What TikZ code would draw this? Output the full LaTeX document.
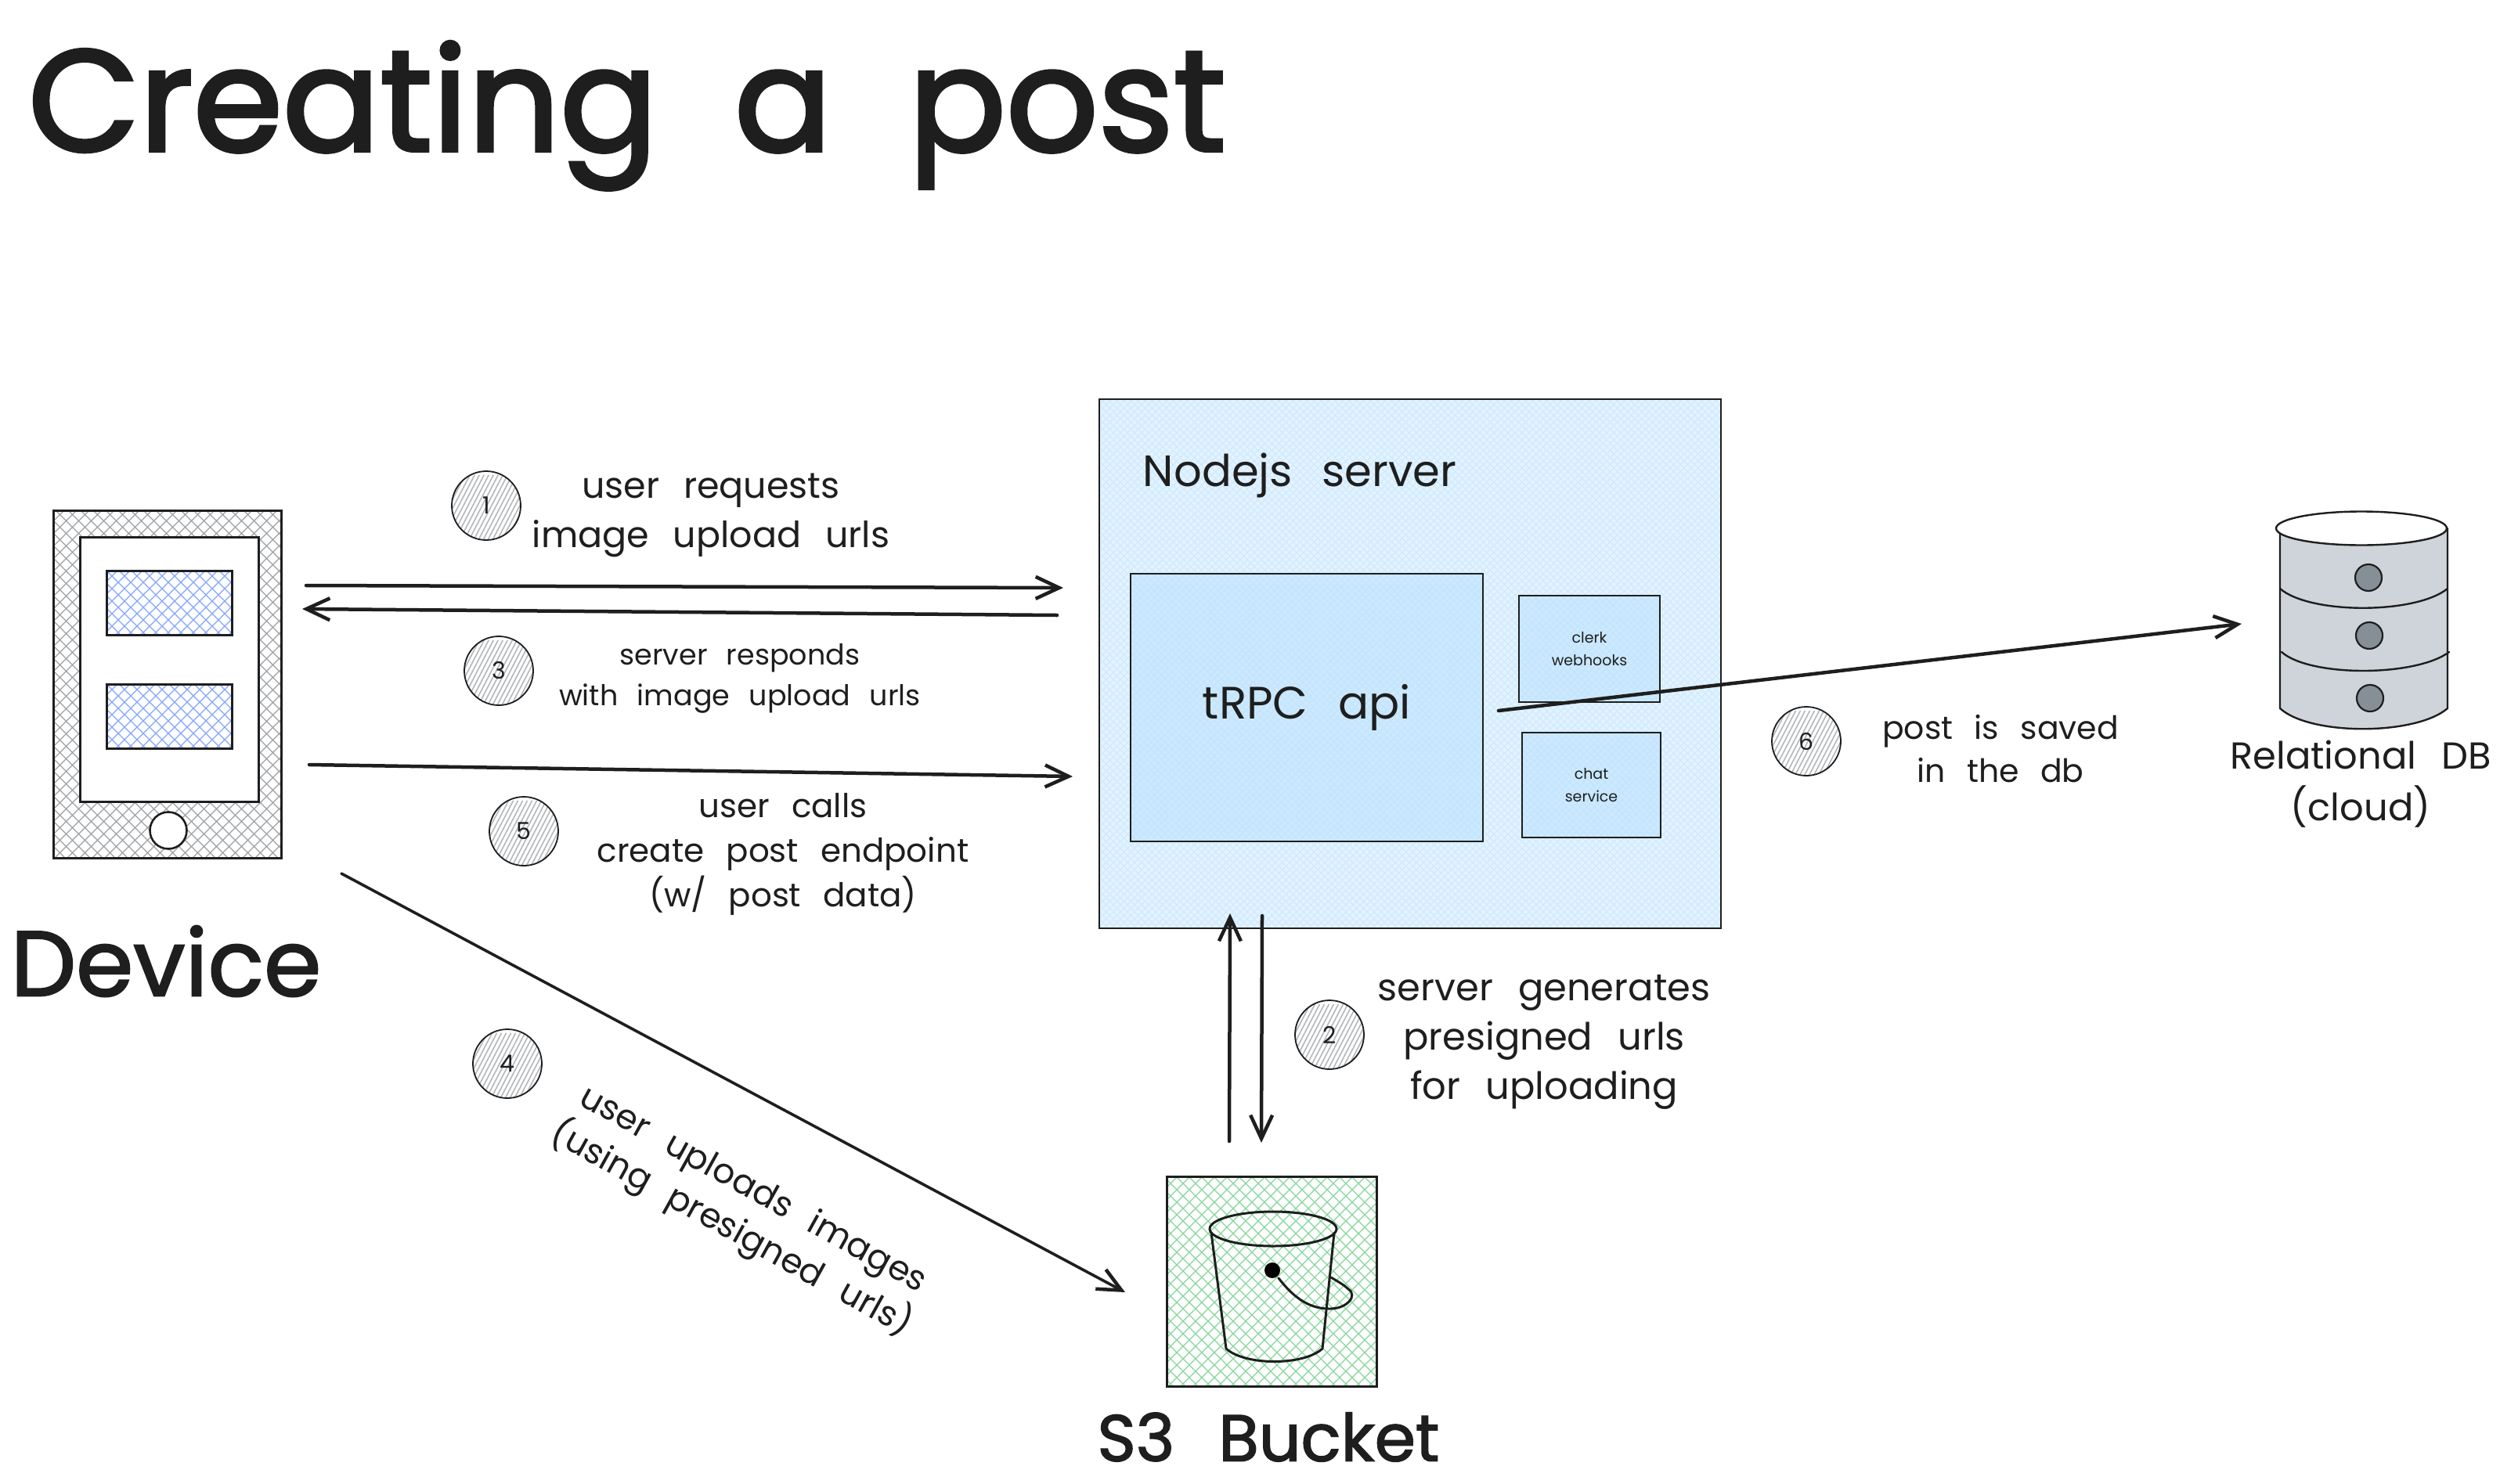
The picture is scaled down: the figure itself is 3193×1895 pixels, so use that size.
\documentclass[tikz,border=0pt]{standalone}
\usepackage{fontspec}
\setmainfont[WordSpace=2.5]{Poppins}
\newfontfamily\heavyfont[FakeBold=1.8,WordSpace=2.5]{Poppins}
\newfontfamily\titlefont[FakeBold=2.4,WordSpace=2.0]{Poppins}
\usetikzlibrary{arrows.meta,shapes.geometric}
\definecolor{ink}{HTML}{1E1E1E}
\definecolor{serverfill}{HTML}{E3F3FF}
\definecolor{serverline}{HTML}{CFEAFD}
\definecolor{innerfill}{HTML}{CCE9FF}
\definecolor{innerline}{HTML}{C3E4FC}
\definecolor{devline}{HTML}{9DA1A5}
\definecolor{blueline}{HTML}{84A5FF}
\definecolor{greenline}{HTML}{86D69B}
\definecolor{dbfill}{HTML}{CED4DA}
\definecolor{dbdot}{HTML}{868E96}
\definecolor{badgeline}{HTML}{B4B8BC}
% \crossh{x1}{y1}{x2}{y2}{step}{style}
\newcommand{\crossh}[6]{%
  \begin{scope}
    \clip (#1,#2) rectangle (#3,#4);
    \pgfmathsetmacro{\hH}{#4-#2}
    \pgfmathsetmacro{\hL}{#3-#1+#4-#2}
    \pgfmathsetmacro{\hN}{#5}
    \pgfmathsetmacro{\hS}{2*#5}
    \foreach \d in {0,\hN,...,\hL}{
      \draw[#6] ({#1+\d},#2) -- ++({-\hH},\hH);
      \draw[#6] ({#3-\d},#2) -- ++(\hH,\hH);
    }
  \end{scope}}
\tikzset{
  lab/.style={text=ink,align=center,inner sep=0pt,font=\fontsize{46pt}{63pt}\selectfont},
  big/.style={text=ink,align=center,inner sep=0pt,font=\heavyfont\fontsize{118pt}{120pt}\selectfont},
  mid/.style={text=ink,align=center,inner sep=0pt,font=\fontsize{62pt}{72pt}\selectfont},
  tiny/.style={text=ink,align=center,inner sep=0pt,font=\fontsize{19pt}{29pt}\selectfont},
  framebox/.style={draw=ink,line width=2pt,anchor=north west,inner sep=0pt},
  thickbox/.style={draw=ink,line width=3.2pt,anchor=north west,inner sep=0pt},
  arrowline/.style={draw=ink,line width=4.5pt,line cap=round,-{Straight Barb[length=30pt,width=28pt,line width=4.5pt]}},
  badge/.style={circle,draw=ink,line width=1.8pt,minimum size=88pt,inner sep=0pt,text=ink,
    font=\fontsize{30pt}{32pt}\selectfont,
    path picture={
      \begin{scope}[shift={(path picture bounding box.center)}]
        \foreach \d in {-84,-78,...,84}{
          \draw[badgeline,line width=1.6pt] ({\d-26},50) -- ({\d+26},-50);
        }
      \end{scope}}},
  thinline/.style={draw=ink,line width=3pt,line cap=round,line join=round}
}
\begin{document}
\begin{tikzpicture}[x=1pt,y=-1pt]
\useasboundingbox (0,0) rectangle (3193,1895);
\fill[white] (0,0) rectangle (3193,1895);

% title
\node[text=ink,inner sep=0pt,anchor=base west,font=\titlefont\fontsize{184pt}{190pt}\selectfont] (title) at (36,193) {Creating a post};

% device
\crossh{67}{651}{358}{1095}{16}{devline,line width=1.2pt}
\node[thickbox,minimum width=291pt,minimum height=444pt] (device) at (67,651) {};
\node[thickbox,fill=white,minimum width=228pt,minimum height=338pt] (screen) at (101,685) {};
\crossh{135}{728}{295}{810}{16}{blueline,line width=1.2pt}
\node[thickbox,line width=2.6pt,minimum width=160pt,minimum height=82pt] (pic1) at (135,728) {};
\crossh{135}{873}{295}{955}{16}{blueline,line width=1.2pt}
\node[thickbox,line width=2.6pt,minimum width=160pt,minimum height=82pt] (pic2) at (135,873) {};
\node[circle,draw=ink,line width=2.6pt,fill=white,minimum size=47pt,inner sep=0pt] (homebtn) at (215,1061) {};
\node[big] (devicelabel) at (212,1228) {Device};

% server
\fill[serverfill] (1403,509) rectangle (2197,1185);
\crossh{1403}{509}{2197}{1185}{9}{serverline,line width=1.2pt}
\node[framebox,minimum width=794pt,minimum height=676pt] (server) at (1403,509) {};
\node[mid,font=\fontsize{56pt}{70pt}\selectfont] (nodelabel) at (1660,607) {Nodejs server};

\fill[innerfill] (1443,732) rectangle (1893,1074);
\crossh{1443}{732}{1893}{1074}{9}{innerline,line width=1.2pt}
\node[framebox,minimum width=450pt,minimum height=342pt,mid,font=\fontsize{58pt}{70pt}\selectfont] (trpc) at (1443,732) {\raisebox{-5pt}{tRPC api}};

\fill[innerfill] (1939,760) rectangle (2119,896);
\crossh{1939}{760}{2119}{896}{9}{innerline,line width=1.2pt}
\node[framebox,minimum width=180pt,minimum height=136pt,tiny] (clerk) at (1939,760) {clerk\\webhooks};

\fill[innerfill] (1943,935) rectangle (2120,1069);
\crossh{1943}{935}{2120}{1069}{9}{innerline,line width=1.2pt}
\node[framebox,minimum width=177pt,minimum height=134pt,tiny] (chat) at (1943,935) {chat\\service};

% bucket
\crossh{1489}{1502}{1757}{1770}{16}{greenline,line width=1.2pt}
\node[thickbox,minimum width=268pt,minimum height=268pt] (bucket) at (1489,1502) {};
\node[ellipse,draw=ink,line width=3pt,minimum width=162pt,minimum height=44pt,inner sep=0pt] (rim) at (1626,1570) {};
\draw[thinline] (1547,1575) -- (1566,1723) .. controls (1590,1745) and (1665,1745) .. (1689,1723) -- (1704,1575);
\node[circle,fill=black,minimum size=20pt,inner sep=0pt] (knob) at (1625,1623) {};
\draw[thinline] (1633,1633) .. controls (1650,1655) and (1670,1672) .. (1697,1672)
   .. controls (1720,1673) and (1735,1655) .. (1722,1647) .. controls (1716,1641) and (1708,1637) .. (1700,1632);
\node[big,font=\heavyfont\fontsize{84pt}{100pt}\selectfont] (s3label) at (1620,1836) {S3 Bucket};

% database
\path[fill=dbfill] (2912,675) -- (2912,905) .. controls (2950,940) and (3085,940) .. (3126,905) -- (3126,675) -- cycle;
\draw[draw=ink,line width=2.4pt,line cap=round] (2912,675) -- (2912,905) .. controls (2950,940) and (3085,940) .. (3126,905) -- (3126,675);
\draw[draw=ink,line width=2.4pt,line cap=round] (2912,752) .. controls (2950,785) and (3085,785) .. (3126,752);
\draw[draw=ink,line width=2.4pt,line cap=round] (2914,833) .. controls (2950,865) and (3085,865) .. (3128,833);
\node[ellipse,draw=ink,fill=white,line width=2.4pt,minimum width=218pt,minimum height=43pt,inner sep=0pt] (dbtop) at (3016,675) {};
\node[circle,draw=ink,fill=dbdot,line width=2.2pt,minimum size=34pt,inner sep=0pt] (dot1) at (3025,738) {};
\node[circle,draw=ink,fill=dbdot,line width=2.2pt,minimum size=34pt,inner sep=0pt] (dot2) at (3026,812) {};
\node[circle,draw=ink,fill=dbdot,line width=2.2pt,minimum size=34pt,inner sep=0pt] (dot3) at (3027,892) {};
\node[mid,font=\fontsize{48pt}{66pt}\selectfont] (dblabel) at (3015,1002) {Relational DB\\(cloud)};

% free ends of the arrows
\coordinate (a1s) at (391,748);  \coordinate (a1e) at (1358,751);
\coordinate (a3s) at (1350,786); \coordinate (a3e) at (386,778);
\coordinate (a5s) at (395,977);  \coordinate (a5e) at (1370,992);
\coordinate (a4s) at (436,1116); \coordinate (a4e) at (1437,1651);
\coordinate (a2us) at (1570,1458); \coordinate (a2ue) at (1571,1167);
\coordinate (a2ds) at (1612,1170); \coordinate (a2de) at (1611,1460);
\coordinate (a6s) at (1914,908); \coordinate (a6e) at (2863,797);

\draw[arrowline] (a1s) -- (a1e);
\draw[arrowline] (a3s) -- (a3e);
\draw[arrowline] (a5s) -- (a5e);
\draw[arrowline,line width=3.6pt] (a4s) -- (a4e);
\draw[arrowline] (a2us) -- (a2ue);
\draw[arrowline] (a2ds) -- (a2de);
\draw[arrowline] (a6s) -- (a6e);

% badges
\node[badge] (b1) at (621,646) {1};
\node[badge] (b2) at (1698,1322) {2};
\node[badge] (b3) at (637,857) {3};
\node[badge] (b4) at (648,1359) {4};
\node[badge] (b5) at (669,1062) {5};
\node[badge] (b6) at (2307,947) {6};

% labels
\node[lab] (t1) at (908,658) {user requests\\image upload urls};
\node[lab,font=\fontsize{36.5pt}{52pt}\selectfont] (t3) at (945,867) {server responds\\with image upload urls};
\node[lab,font=\fontsize{42pt}{57pt}\selectfont] (t5) at (1000,1091) {user calls\\create post endpoint\\(w/ post data)};
\node[lab,font=\fontsize{48pt}{63pt}\selectfont] (t2) at (1972,1331) {server generates\\presigned urls\\for uploading};
\node[lab,font=\fontsize{41pt}{55pt}\selectfont] (t6) at (2555,957) {post is saved\\in the db};
\node[lab,rotate=-29,font=\fontsize{44pt}{58pt}\selectfont] (t4) at (947,1547) {user uploads images\\(using presigned urls)};
\end{tikzpicture}
\end{document}
